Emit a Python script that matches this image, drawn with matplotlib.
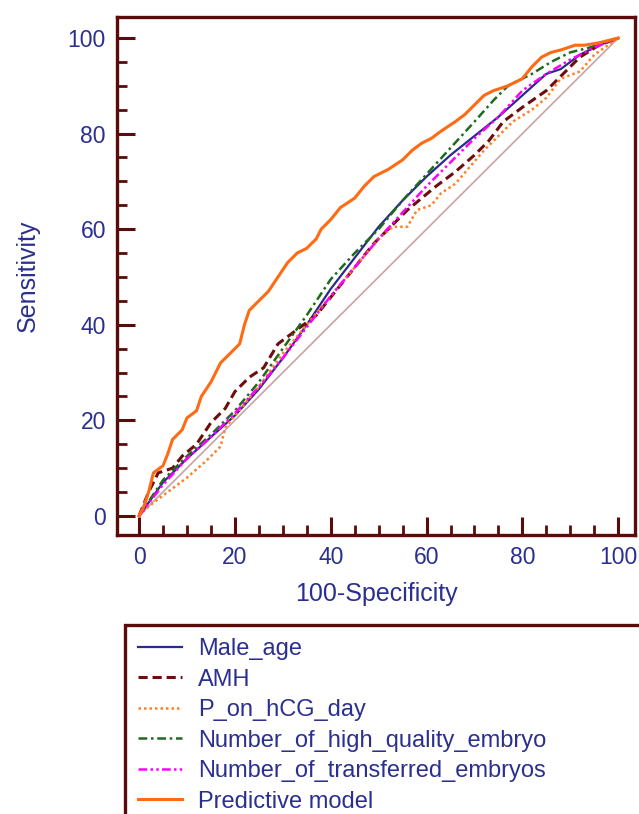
import numpy as np
import matplotlib
matplotlib.use('Agg')
import matplotlib.pyplot as plt
from matplotlib.patches import Rectangle
from matplotlib.ticker import MultipleLocator

# ROC curves (x = 100-Specificity, y = Sensitivity)
male_age_x = [0, 5, 10, 15, 20, 25, 30, 35, 40, 45, 50, 55, 60, 65, 70, 75, 80, 85, 88, 92, 96, 100]
male_age_y = [0, 7, 12, 16.5, 21, 26.5, 33, 40, 47.5, 54, 60.5, 66, 71, 75.5, 79.5, 83.5, 88, 92.5, 93.5, 96.5, 98.5, 100]

amh_x = [0, 2, 4, 7, 9, 12, 15, 18, 20, 23, 26, 29, 33, 37, 41, 45, 49, 53, 56, 59, 62, 66, 70, 73, 76, 80, 85, 88, 92, 96, 100]
amh_y = [0, 5, 9, 10, 12.5, 15, 19.5, 22.5, 26, 29, 31, 36, 39, 42, 47, 52, 57, 61, 64, 66.5, 69, 72, 75.5, 78.5, 82.5, 85.5, 89, 92, 96, 98.5, 100]

p_hcg_x = [0, 2, 6, 10, 14, 17, 18, 20, 25, 30, 35, 40, 45, 50, 53, 56, 58, 61, 63, 66, 69, 72, 75, 78, 82, 85, 88, 92, 95, 100]
p_hcg_y = [0, 2, 5, 8, 11.5, 14.5, 18.5, 21, 27, 34, 40, 46, 52, 58, 60.5, 60.5, 64, 65, 67.5, 69.5, 73, 76.5, 79.5, 82.5, 85, 87.5, 91.5, 93, 96.5, 100]

hq_x = [0, 5, 10, 15, 20, 25, 30, 35, 40, 45, 50, 55, 60, 65, 70, 74, 77, 82, 86, 90, 94, 97, 100]
hq_y = [0, 7.5, 12.5, 17, 22, 28, 35, 42, 49.5, 55, 60, 66, 71.5, 77, 82.5, 87, 90, 92.5, 95, 97, 98, 99, 100]

tr_x = [0, 5, 10, 15, 20, 25, 30, 35, 40, 45, 50, 55, 60, 65, 70, 75, 80, 85, 90, 95, 100]
tr_y = [0, 6.5, 12, 16.5, 21.5, 27, 33, 39.5, 46, 52, 58, 63.5, 69, 74, 79, 83.5, 89, 92.5, 95.5, 98, 100]

model_x = [0, 1, 2, 3, 5, 6, 7, 9, 10, 12, 13, 15, 17, 19, 21, 22, 23, 25, 27, 29, 31, 33, 35, 37, 38, 40,
           42, 45, 47, 49, 52, 55, 57, 59, 61, 63, 66, 68, 70, 72, 74, 77, 80, 82, 84, 86, 88, 91, 93, 96, 98, 100]
model_y = [0, 2, 5, 9, 10.5, 13, 16, 18, 20.5, 22, 25, 28, 32, 34, 36, 40, 43, 45, 47, 50, 53, 55, 56, 58, 60, 62,
           64.5, 66.5, 69, 71, 72.5, 74.5, 76.5, 78, 79, 80.5, 82.5, 84, 86, 88, 89, 90, 91.5, 94, 96, 97, 97.5, 98.5, 98.5, 99, 99.5, 100]

labels = ['Male_age', 'AMH', 'P_on_hCG_day', 'Number_of_high_quality_embryo',
          'Number_of_transferred_embryos', 'Predictive model']

frame_col = '#5c0a0a'
text_col = '#2b2f8f'
plt.rcParams['font.family'] = ['Liberation Sans', 'DejaVu Sans']

fig = plt.figure(figsize=(6.39, 8.14), dpi=100)
ax = fig.add_axes([117 / 639, 1 - 535 / 814, 518 / 639, 518 / 814])

# reference diagonal
ax.plot([0, 100], [0, 100], color='#c9a3a3', lw=1.2, zorder=1)

ax.plot(male_age_x, male_age_y, color='#2a2a8c', lw=1.6, label=labels[0])
ax.plot(amh_x, amh_y, color='#6e0d0d', lw=2.2, linestyle=(0, (3, 1.6)), label=labels[1])
ax.plot(p_hcg_x, p_hcg_y, color='#ff7f27', lw=1.8, linestyle=(0, (1, 1.2)), label=labels[2])
ax.plot(hq_x, hq_y, color='#1d6b1d', lw=1.8, linestyle=(0, (3.5, 1.5, 1, 1.5)), label=labels[3])
ax.plot(tr_x, tr_y, color='#ff00ff', lw=1.8, linestyle=(0, (3.5, 1.3, 1, 1.3, 1, 1.3)), label=labels[4])
ax.plot(model_x, model_y, color='#ff6a13', lw=2.2, label=labels[5])

ax.set_xlim(-4.6, 103.5)
ax.set_ylim(-4.0, 104.4)
ax.xaxis.set_major_locator(MultipleLocator(20))
ax.yaxis.set_major_locator(MultipleLocator(20))

ax.tick_params(which='major', direction='in', length=13, width=2.2, color=frame_col,
               labelsize=16.5, labelcolor=text_col, pad=8)
ax.tick_params(which='minor', direction='in', length=7, width=2.0, color=frame_col)
# minor ticks every 5, only inside the 0-100 range
ax.set_xticks([t for t in range(0, 101, 5) if t % 20], minor=True)
ax.set_yticks([t for t in range(0, 101, 5) if t % 20], minor=True)

for side in ['left', 'right', 'top', 'bottom']:
    ax.spines[side].set_color(frame_col)
    ax.spines[side].set_linewidth(2.4)

ax.set_xlabel('100-Specificity', fontsize=18, color=text_col, labelpad=9)
ax.set_ylabel('Sensitivity', fontsize=18, color=text_col, labelpad=20)

# legend box runs off the bottom/right of the figure
fig.patches.append(Rectangle((125 / 639, -0.05), 0.9, 1 - 625 / 814 + 0.05, transform=fig.transFigure,
                             fill=False, edgecolor=frame_col, lw=2.4))
handles, labs = ax.get_legend_handles_labels()
fig.legend(handles, labs, loc='upper left', bbox_to_anchor=(138 / 639, 1 - 638 / 814),
           frameon=False, fontsize=17, labelcolor=text_col, handlelength=1.85,
           handletextpad=0.7, labelspacing=0.36, borderpad=0, borderaxespad=0)

fig.savefig('out.png', dpi=100)
